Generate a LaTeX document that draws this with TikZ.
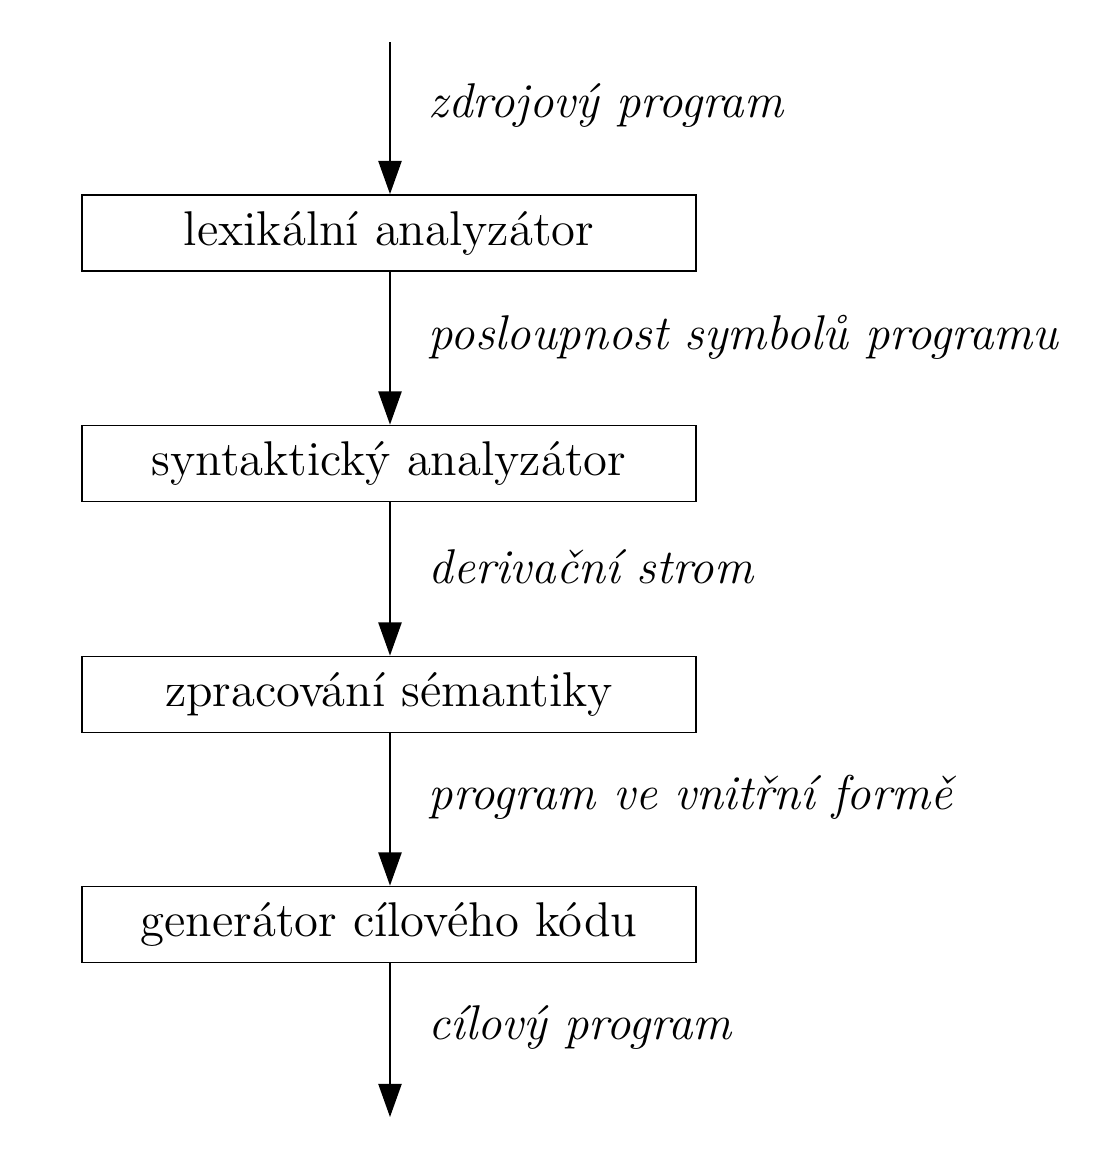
\documentclass[tikz,border=0pt]{standalone}
\usetikzlibrary{arrows.meta}
\begin{document}
\begin{tikzpicture}[x=0.25pt,y=-0.25pt,
  stagebox/.style={draw,line width=0.45pt,minimum width=153.5pt,minimum height=19pt,inner sep=0pt,font=\fontsize{12.2}{14}\selectfont},
  flowlabel/.style={anchor=west,inner sep=0pt,font=\fontsize{12.2}{14}\selectfont\itshape},
  flow/.style={line width=0.45pt,-{Triangle[length=8.3pt,width=5.8pt]}}]
\useasboundingbox (0,0) rectangle (1096,1150);
\coordinate (top) at (390,42);
\coordinate (bot) at (390,1117);
\node[stagebox] (lex) at (389,233) {lexikální analyzátor};
\node[stagebox] (syn) at (389,463.5) {syntaktický analyzátor};
\node[stagebox] (sem) at (389,694.5) {zpracování sémantiky};
\node[stagebox] (gen) at (389,924.5) {generátor cílového kódu};
\draw[flow] (top) -- (top|-lex.north);
\draw[flow] (top|-lex.south) -- (top|-syn.north);
\draw[flow] (top|-syn.south) -- (top|-sem.north);
\draw[flow] (top|-sem.south) -- (top|-gen.north);
\draw[flow] (top|-gen.south) -- (bot);
\node[flowlabel] (l1) at (428,105) {zdrojový program};
\node[flowlabel] (l2) at (428,337) {posloupnost symbolů programu};
\node[flowlabel] (l3) at (428,567) {derivační strom};
\node[flowlabel] (l4) at (428,797) {program ve vnitřní formě};
\node[flowlabel] (l5) at (428,1027) {cílový program};
\end{tikzpicture}
\end{document}
